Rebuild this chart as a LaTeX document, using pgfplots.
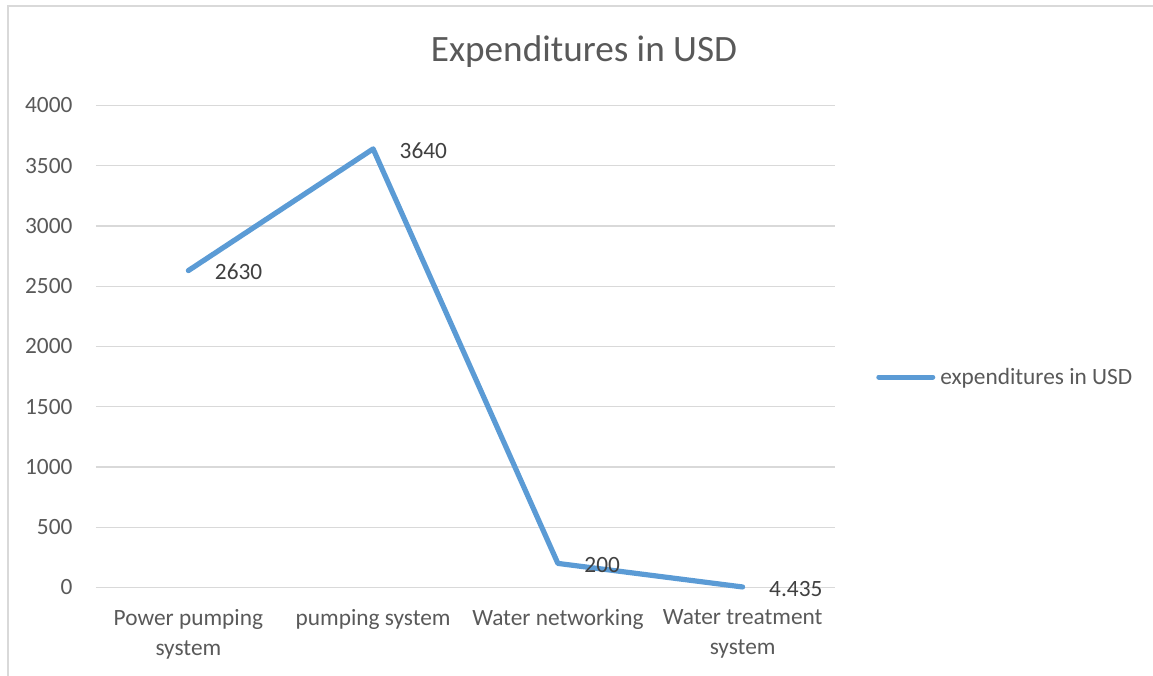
\documentclass[border=0pt]{standalone}
\usepackage{pgfplots}
\pgfplotsset{compat=1.18}
\usepackage{fontspec}
\setmainfont{Carlito}
\definecolor{lineblue}{HTML}{5B9BD5}
\definecolor{txtgray}{HTML}{595959}
\definecolor{lblgray}{HTML}{404040}
\definecolor{gridgray}{HTML}{D9D9D9}
\begin{document}
\begin{tikzpicture}
\path[use as bounding box] (0pt,0pt) rectangle (864.75pt,-506.25pt);
\draw[gridgray, line width=1.2pt] (6pt,-4.5pt) rectangle (900pt,-540pt);
\begin{axis}[
  at={(72pt,-440.625pt)}, anchor=south west, scale only axis,
  width=554.25pt, height=361.5pt,
  xmin=-0.5, xmax=3.5, ymin=0, ymax=4000,
  ytick={0,500,...,4000},
  xtick={0,1,2,3},
  xticklabels={{Power pumping\\system},{pumping system},{Water networking},{Water treatment\\system}},
  x tick label style={align=center, font=\fontsize{17.5}{22.5}\selectfont, text=txtgray, anchor=north, inner sep=0pt, yshift=-16.5pt},
  y tick label style={font=\fontsize{17.5}{21}\selectfont, text=txtgray, anchor=east, inner sep=0pt, xshift=-17.5pt},
  /pgf/number format/assume math mode=true,
  /pgf/number format/1000 sep={},
  scaled y ticks=false,
  axis line style={draw=none}, major tick length=0pt, tick style={draw=none},
  ymajorgrids, grid style={gridgray, line width=0.9pt},
  title={Expenditures in USD},
  title style={at={(0.6604,1.0757)}, anchor=base, font=\fontsize{27.9}{33}\selectfont, text=txtgray, inner sep=0pt},
  legend style={at={(1.0555,0.4367)}, anchor=west, draw=none, fill=none, inner sep=0pt,
    font=\fontsize{17.5}{21}\selectfont, text=txtgray,
    nodes={inner sep=0pt}, /tikz/every odd column/.append style={column sep=3.75pt}},
  legend image code/.code={\draw[lineblue, line width=3.75pt, line cap=round] (0pt,0pt) -- (40.5pt,0pt);},
  clip=false,
  nodes near coords,
  point meta=explicit symbolic,
  every node near coord/.append style={anchor=west, inner sep=0pt, xshift=18pt, yshift=-1.2pt, font=\fontsize{17.5}{21}\selectfont, text=lblgray},
]
\addplot[lineblue, line width=3.9pt, line join=round, line cap=round, mark=none]
  coordinates {(0,2630)[2630] (1,3640)[3640] (2,200)[200] (3,4.435)[4.435]};
\addlegendentry{expenditures in USD}
\end{axis}
\end{tikzpicture}
\end{document}
